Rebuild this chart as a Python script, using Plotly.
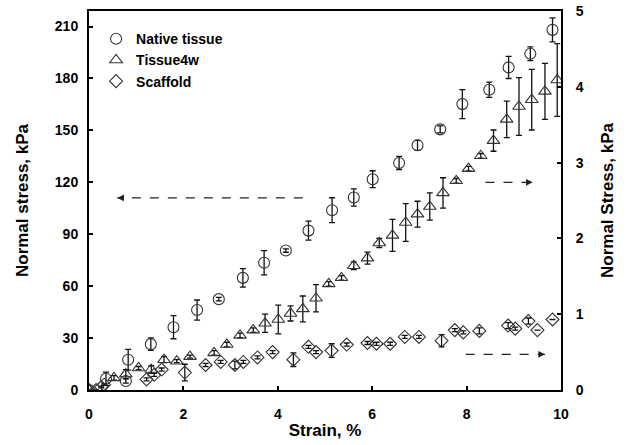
import plotly.graph_objects as go

# Native tissue (left axis, kPa)
native_x = [0, 0.36, 0.78, 0.83, 1.31, 1.79, 2.29, 2.75, 3.26, 3.71, 4.17, 4.65, 5.15, 5.61,
            6.01, 6.57, 6.96, 7.44, 7.91, 8.48, 8.89, 9.35, 9.82]
native_y = [0, 6.5, 5.2, 17.5, 26.5, 36.3, 46.2, 52.5, 64.8, 73.5, 80.6, 92.1, 103.9, 111.2,
            121.8, 131.2, 141.4, 150.6, 165.2, 173.5, 186.4, 194.3, 208.1]
native_err = [0, 3.8, 1.2, 6.0, 3.6, 6.7, 5.8, 1.0, 5.3, 7.0, 1.0, 5.5, 7.2, 5.0,
              4.9, 3.8, 2.9, 2.0, 8.4, 4.4, 6.4, 4.0, 6.9]

# Tissue4w (right axis, kPa)
t4w_x = [0, 0.53, 0.78, 1.05, 1.32, 1.59, 1.86, 2.14, 2.65, 2.92, 3.2, 3.48, 3.73, 4.01, 4.27,
         4.53, 4.81, 5.08, 5.35, 5.61, 5.9, 6.15, 6.43, 6.71, 6.96, 7.22, 7.5, 7.78, 8.04,
         8.3, 8.57, 8.85, 9.11, 9.38, 9.66, 9.92]
t4w_y = [0, 0.16, 0.21, 0.29, 0.27, 0.4, 0.38, 0.44, 0.49, 0.6, 0.72, 0.79, 0.88, 0.93, 1.01,
         1.07, 1.21, 1.4, 1.48, 1.64, 1.74, 1.94, 2.04, 2.21, 2.32, 2.42, 2.6, 2.76, 2.92,
         3.09, 3.29, 3.57, 3.74, 3.83, 3.94, 4.09]
t4w_err = [0, 0.03, 0.06, 0.02, 0.05, 0.04, 0.02, 0.02, 0.03, 0.03, 0.03, 0.03, 0.12, 0.19, 0.1,
           0.17, 0.18, 0.03, 0.03, 0.05, 0.08, 0.06, 0.21, 0.25, 0.17, 0.18, 0.2, 0.03, 0.03,
           0.03, 0.14, 0.24, 0.38, 0.4, 0.37, 0.48]

# Scaffold (right axis, kPa)
scf_x = [0, 0.15, 0.26, 0.32, 1.22, 1.38, 1.54, 2.03, 2.47, 2.79, 3.09, 3.27, 3.57, 3.89, 4.33,
         4.65, 4.81, 5.14, 5.46, 5.9, 6.09, 6.38, 6.69, 6.99, 7.47, 7.75, 7.93, 8.27, 8.88,
         9.03, 9.31, 9.5, 9.82]
scf_y = [0, 0.0, 0.04, 0.07, 0.14, 0.2, 0.27, 0.23, 0.33, 0.37, 0.33, 0.37, 0.43, 0.5, 0.4,
         0.57, 0.5, 0.52, 0.6, 0.62, 0.61, 0.61, 0.7, 0.7, 0.65, 0.79, 0.76, 0.78, 0.85,
         0.81, 0.91, 0.79, 0.93]
scf_err = [0, 0, 0.01, 0.01, 0.02, 0.02, 0.02, 0.11, 0.02, 0.02, 0.05, 0.02, 0.02, 0.02, 0.09,
           0.02, 0.02, 0.09, 0.02, 0.02, 0.02, 0.02, 0.02, 0.02, 0.08, 0.02, 0.02, 0.04, 0.04,
           0.02, 0.04, 0.0, 0.0]

left_ticks = [0, 30, 60, 90, 120, 150, 180, 210]
right_ticks = [0, 1, 2, 3, 4, 5]
x_ticks = [0, 2, 4, 6, 8, 10]

FONT = "Arial, Liberation Sans, sans-serif"
MC = "#333333"

def err(vals):
    return dict(type="data", array=vals, visible=True, color="#111111", thickness=1.3, width=3)

fig = go.Figure()
fig.add_trace(go.Scatter(x=native_x, y=native_y, mode="markers", name="Native tissue",
                         marker=dict(symbol="circle-open", size=11, color=MC, line=dict(width=1.1)),
                         error_y=err(native_err)))
fig.add_trace(go.Scatter(x=t4w_x, y=t4w_y, mode="markers", name="Tissue4w", yaxis="y2",
                         marker=dict(symbol="triangle-up-open", size=11, color=MC, line=dict(width=1.1)),
                         error_y=err(t4w_err)))
fig.add_trace(go.Scatter(x=scf_x, y=scf_y, mode="markers", name="Scaffold", yaxis="y2",
                         marker=dict(symbol="diamond-open", size=10, color=MC, line=dict(width=1.1)),
                         error_y=err(scf_err)))

# dashed arrows (in x data units and left-axis units)
arrows = [((4.53, 111), (0.6, 111)), ((8.4, 120), (9.4, 120)), ((7.98, 20.6), (9.66, 20.6))]
for (x0, y0), (x1, y1) in arrows:
    fig.add_shape(type="line", x0=x0, y0=y0, x1=x1, y1=y1, xref="x", yref="y",
                  line=dict(color="#222222", width=1.2, dash="dash"))
    d = 1 if x1 > x0 else -1
    fig.add_annotation(x=x1, y=y1, ax=-d * 8, ay=0, xref="x", yref="y", text="",
                       showarrow=True, arrowhead=2, arrowsize=1.1, arrowwidth=1.2, arrowcolor="#222222")

def axis_common(standoff):
    return dict(showgrid=False, zeroline=False, showline=True, linecolor="black", linewidth=2,
                ticks="inside", ticklen=4, tickwidth=1.5, tickcolor="black",
                ticklabelstandoff=standoff, automargin=False,
                tickfont=dict(family=FONT, size=14, color="black", weight="bold"))

TF = dict(family=FONT, size=17, color="black", weight="bold")

fig.update_layout(
    width=628, height=445,
    margin=dict(l=89, r=67, t=11, b=55),
    paper_bgcolor="white", plot_bgcolor="white",
    font=dict(family=FONT, color="black"),
    showlegend=True,
    legend=dict(x=0.015, y=0.968, xanchor="left", yanchor="top", bgcolor="rgba(0,0,0,0)",
                font=dict(family=FONT, size=14, color="black", weight="bold"),
                itemwidth=30, tracegroupgap=0),
    xaxis=dict(range=[0, 10], tickvals=x_ticks, mirror=True,
               title=dict(text="Strain, %", font=TF, standoff=3),
               **axis_common(10)),
    yaxis=dict(range=[0, 219], tickvals=left_ticks,
               title=dict(text="Normal stress, kPa", font=TF, standoff=22),
               **axis_common(6)),
    yaxis2=dict(range=[0, 5], tickvals=right_ticks, overlaying="y", side="right",
                title=dict(text="Normal Stress, kPa", font=TF, standoff=18),
                **axis_common(10)),
)

fig.write_html("out.html")
